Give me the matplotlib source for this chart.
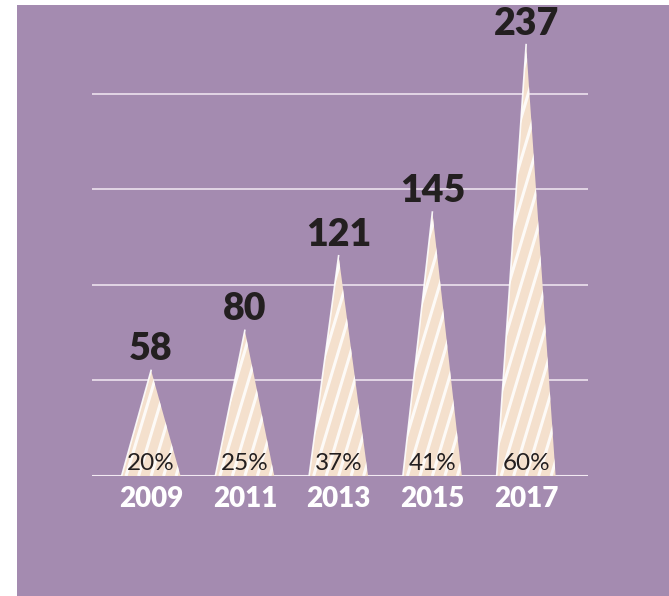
import matplotlib
matplotlib.use("Agg")
import matplotlib.pyplot as plt
from matplotlib.patches import Polygon, Rectangle
import numpy as np

# Data
years = ["2009", "2011", "2013", "2015", "2017"]
values = [58, 80, 121, 145, 237]
shares = ["20%", "25%", "37%", "41%", "60%"]
grid_levels = [52.5, 105, 157.5, 210]

# Style
PURPLE = "#A48BB0"
CREAM = "#F4E0CD"
STRIPE = "#FFFFFF"
DARK = "#231F20"
GRID = "#F3EAF3"

W, H, DPI = 669, 596, 100
fig = plt.figure(figsize=(W / DPI, H / DPI), dpi=DPI, facecolor="white")

# Purple panel behind the chart
fig.patches.append(Rectangle((17 / W, 0), 1 - 17 / W, (H - 5) / H,
                             transform=fig.transFigure, facecolor=PURPLE,
                             edgecolor="none", zorder=-10))

ax_left, ax_right = 92, 588
ax_bottom_px, ax_top_px = 476, 5
ax = fig.add_axes([ax_left / W, (H - ax_bottom_px) / H,
                   (ax_right - ax_left) / W, (ax_bottom_px - ax_top_px) / H])
ax.set_facecolor("none")
ax.set_zorder(1)
for s in ax.spines.values():
    s.set_visible(False)
ax.set_xticks([])
ax.set_yticks([])

xlim = (-0.63, 4.66)
px_per_unit = 1.82
ylim = (0, (ax_bottom_px - ax_top_px) / px_per_unit)
ax.set_xlim(*xlim)
ax.set_ylim(*ylim)

px_x = (ax_right - ax_left) / (xlim[1] - xlim[0])  # pixels per category unit
half_base = 29.5 / px_x

# Gridlines and baseline
for g in grid_levels:
    ax.axhline(g, color=GRID, lw=1.1, zorder=1)
ax.axhline(0, color=GRID, lw=1.5, zorder=1)

xs = np.arange(len(years))
stripe_gap_px = 12.5
stripe_dx_px = 0.3  # horizontal shift per vertical pixel

for x, v, share, yr in zip(xs, values, shares, years):
    tri = Polygon([(x - half_base, 0), (x, v), (x + half_base, 0)],
                  closed=True, facecolor=CREAM, edgecolor="none", zorder=2)
    ax.add_patch(tri)

    # diagonal stripes clipped to the spike
    h_px = v * px_per_unit
    n = int((2 * 29.5 + h_px * stripe_dx_px) / stripe_gap_px) + 3
    for k in range(-n, n):
        x0 = x + (k * stripe_gap_px) / px_x
        x1 = x0 + h_px * stripe_dx_px / px_x
        ln, = ax.plot([x0, x1], [0, v], color=STRIPE, lw=2.2,
                      solid_capstyle="butt", zorder=3, alpha=0.85)
        ln.set_clip_path(tri)

    # light edge on the left side
    ax.plot([x - half_base, x], [0, v], color="white", lw=1.2, zorder=4,
            alpha=0.9)

    ax.annotate(str(v), (x, v), xytext=(0, 10), textcoords="offset pixels",
                ha="center", va="baseline", fontsize=27, fontweight="heavy",
                family="Lato", color=DARK, zorder=5)
    ax.annotate(share, (x, 0), xytext=(0, 6), textcoords="offset pixels",
                ha="center", va="baseline", fontsize=17.5, family="Lato",
                color=DARK, zorder=5)
    ax.annotate(yr, (x, 0), xytext=(0, -31), textcoords="offset pixels",
                ha="center", va="baseline", fontsize=20, fontweight="heavy",
                family="Lato", color="white", zorder=5)

fig.savefig("out.png", dpi=DPI, facecolor="white")
